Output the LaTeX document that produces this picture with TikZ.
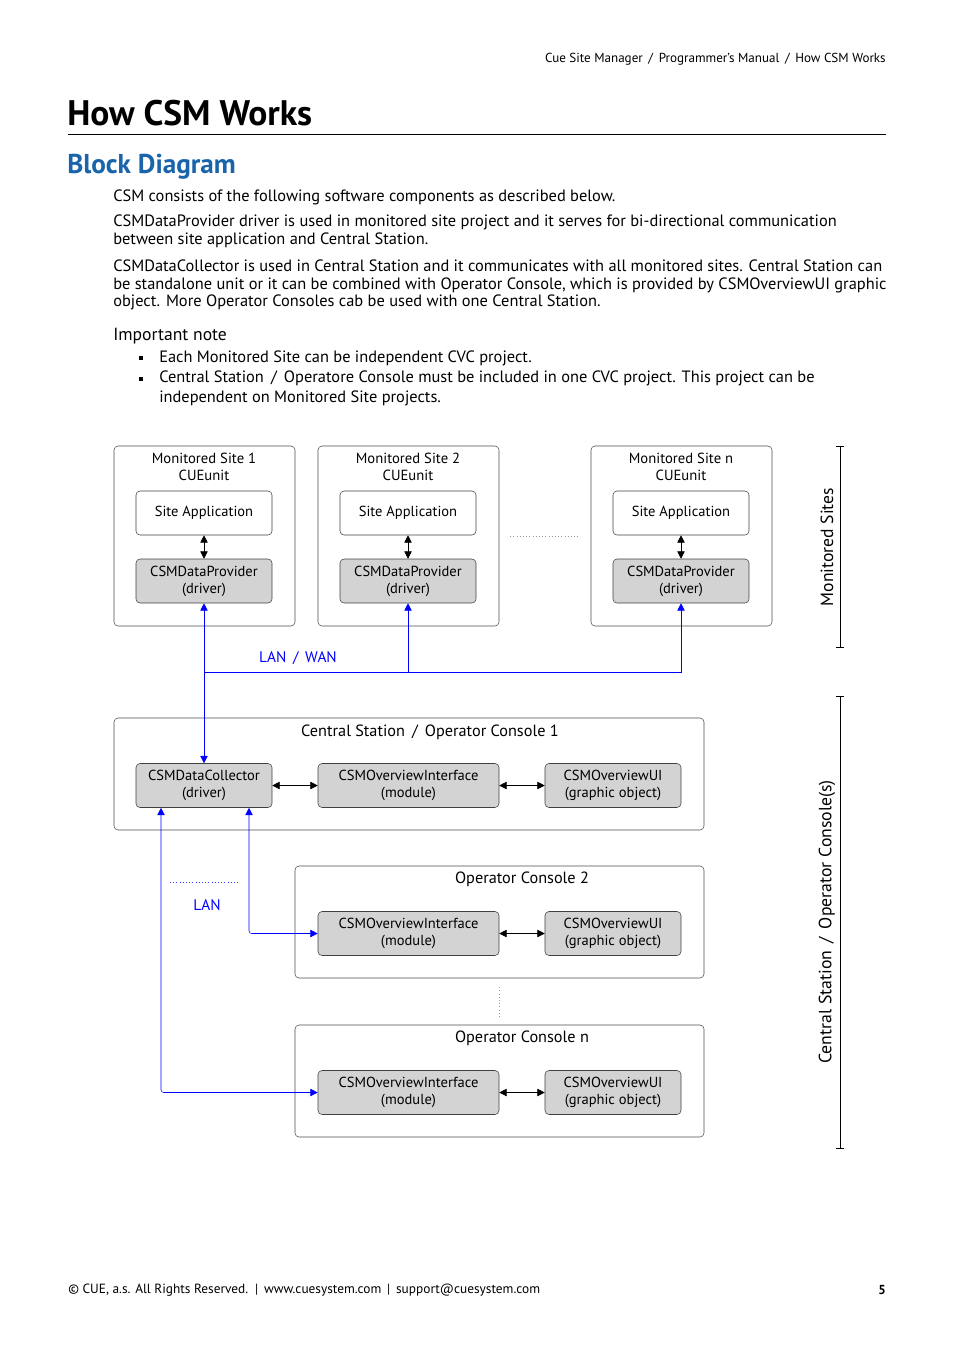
\documentclass[tikz,border=0pt]{standalone}
\usepackage{fontspec}
\setmainfont{PT Sans}
\usetikzlibrary{arrows.meta}
\definecolor{headblue}{RGB}{25,100,170}
\definecolor{boxgray}{RGB}{211,211,211}
\newcommand{\bodyfont}{\fontsize{12.3}{13.1}\selectfont}

\begin{document}
\begin{tikzpicture}[x=0.75pt, y=-0.75pt, >={Triangle[length=5.5pt,width=5.5pt]},
  txt/.style={inner sep=0pt, anchor=west},
  outer/.style={draw=black!70, rounded corners=3pt, inner sep=0pt},
  white box/.style={draw=black!75, rounded corners=3pt, fill=white, minimum width=102pt, minimum height=33pt, inner sep=1pt, font=\fontsize{10.9}{12.75}\selectfont, align=center},
  gray box/.style={white box, fill=boxgray},
  wide box/.style={gray box, minimum width=135.75pt},
  lbl/.style={font=\fontsize{11}{12.75}\selectfont, align=center, inner sep=0pt},
  head/.style={lbl, font=\fontsize{12.2}{14}\selectfont},
  link/.style={blue, thin},
  pair/.style={<->, thin},
]
\useasboundingbox (0,0) rectangle (954,1350);

% page head
\node[inner sep=0pt, anchor=east, font=\fontsize{9.8}{11}\selectfont] (crumbs) at (886,59) {Cue Site Manager \,/\, Programmer’s Manual \,/\, How CSM Works};
\node[txt, font=\fontsize{26.6}{30}\selectfont\bfseries] (title) at (67,113) {How CSM Works};
\draw[thin] (68,134) -- (886,134);
\node[txt, text=headblue, font=\fontsize{20.4}{24}\selectfont\bfseries] (sub) at (67,167) {Block Diagram};

% text
\node[txt, font=\bodyfont] (p1) at (113,197) {CSM consists of the following software components as described below.};
\node[txt, font=\bodyfont, align=left] (p2) at (113,231.5) {CSMDataProvider driver is used in monitored site project and it serves for bi-directional communication\\between site application and Central Station.};
\node[txt, font=\bodyfont, align=left] (p3) at (113,285) {CSMDataCollector is used in Central Station and it communicates with all monitored sites. Central Station can\\be standalone unit or it can be combined with Operator Console, which is provided by CSMOverviewUI graphic\\object. More Operator Consoles cab be used with one Central Station.};
\node[txt, font=\fontsize{13.2}{15}\selectfont] (note) at (113,336) {Important note};
\node[fill, inner sep=0pt, minimum size=3.5pt] (b1) at (141,358) {};
\node[txt, font=\bodyfont] (n1) at (159,358) {Each Monitored Site can be independent CVC project.};
\node[fill, inner sep=0pt, minimum size=3.5pt] (b2) at (141,379) {};
\node[txt, font=\fontsize{12.3}{15}\selectfont, align=left] (n2) at (159,388.5) {Central Station \,/\, Operatore Console must be included in one CVC project. This project can be\\independent on Monitored Site projects.};

% monitored sites
\node[outer, minimum width=135.75pt, minimum height=135pt] (site1) at (204.5,536) {};
\node[outer, minimum width=135.75pt, minimum height=135pt] (site2) at (408.5,536) {};
\node[outer, minimum width=135.75pt, minimum height=135pt] (siten) at (681.5,536) {};
\node[lbl] (s1t) at (204,466.5) {Monitored Site 1\\CUEunit};
\node[lbl] (s2t) at (408,466.5) {Monitored Site 2\\CUEunit};
\node[lbl] (snt) at (681,466.5) {Monitored Site n\\CUEunit};
\node[white box] (app1) at (204,513) {Site Application};
\node[white box] (app2) at (408,513) {Site Application};
\node[white box] (appn) at (681,513) {Site Application};
\node[gray box] (prov1) at (204,581) {CSMDataProvider\\(driver)};
\node[gray box] (prov2) at (408,581) {CSMDataProvider\\(driver)};
\node[gray box] (provn) at (681,581) {CSMDataProvider\\(driver)};
\draw[pair] (app1) -- (prov1);
\draw[pair] (app2) -- (prov2);
\draw[pair] (appn) -- (provn);
\draw[black!40, dotted] (site2.east |- 0,536) ++(11,0) coordinate (d1) -- ++(70,0) coordinate (d2);

% central station
\node[outer, minimum width=442.5pt, minimum height=84pt] (central) at (409,774) {};
\node[head] (ct) at (430,732) {Central Station \,/\, Operator Console 1};
\node[gray box] (coll) at (204,785.5) {CSMDataCollector\\(driver)};
\node[wide box] (if1) at (408.5,785.5) {CSMOverviewInterface\\(module)};
\node[gray box] (ui1) at (613,785.5) {CSMOverviewUI\\(graphic object)};
\draw[pair] (coll) -- (if1);
\draw[pair] (if1) -- (ui1);

% operator consoles
\node[outer, minimum width=306.75pt, minimum height=84pt] (oc2) at (499.5,922) {};
\node[head] (o2t) at (522,879) {Operator Console 2};
\node[wide box] (if2) at (408.5,933.5) {CSMOverviewInterface\\(module)};
\node[gray box] (ui2) at (613,933.5) {CSMOverviewUI\\(graphic object)};
\draw[pair] (if2) -- (ui2);

\node[outer, minimum width=306.75pt, minimum height=84pt] (ocn) at (499.5,1081) {};
\node[head] (ont) at (522,1038) {Operator Console n};
\node[wide box] (ifn) at (408.5,1092.5) {CSMOverviewInterface\\(module)};
\node[gray box] (uin) at (613,1092.5) {CSMOverviewUI\\(graphic object)};
\draw[pair] (ifn) -- (uin);
\draw[black!40, dotted] (oc2.south) ++(0,9) -- ++(0,30);

% network links
\coordinate (wan) at (204,672);
\draw[link, <->] (prov1) -- (coll);
\draw[link, ->] (wan) -| (provn);
\draw[link, ->] (prov2 |- wan) -- (prov2);
\node[lbl, text=blue, font=\fontsize{11.5}{13}\selectfont] (wanlbl) at (298,658) {LAN \,/\, WAN};
\draw[link, <->, rounded corners=2pt] ([xshift=33.75pt]coll.south) |- (if2);
\draw[link, <->, rounded corners=2pt] ([xshift=-32.25pt]coll.south) |- (ifn);
\draw[blue!80, dotted] (170,882) -- (239,882);
\node[lbl, text=blue, font=\fontsize{11.5}{13}\selectfont] (lanlbl) at (207,905) {LAN};

% side scales
\draw[{Bar[width=6pt]}-{Bar[width=6pt]}, semithick] (840,446) coordinate (m1) -- (840,648) coordinate (m2);
\node[lbl, rotate=90, font=\fontsize{13.2}{15}\selectfont] (mlbl) at (827,547) {Monitored Sites};
\draw[{Bar[width=6pt]}-{Bar[width=6pt]}, semithick] (840,696) coordinate (c1) -- (840,1149) coordinate (c2);
\node[lbl, rotate=90, font=\fontsize{13.3}{15}\selectfont] (clbl) at (827,922) {Central Station \,/\, Operator Console(s)};

% page foot
\node[txt, font=\fontsize{10}{11}\selectfont] (foot) at (68,1290) {© CUE, a.s. All Rights Reserved. \,|\, www.cuesystem.com \,|\, support@cuesystem.com};
\node[inner sep=0pt, anchor=east, font=\fontsize{9.8}{11}\selectfont\bfseries] (page) at (886,1290) {5};
\end{tikzpicture}
\end{document}
